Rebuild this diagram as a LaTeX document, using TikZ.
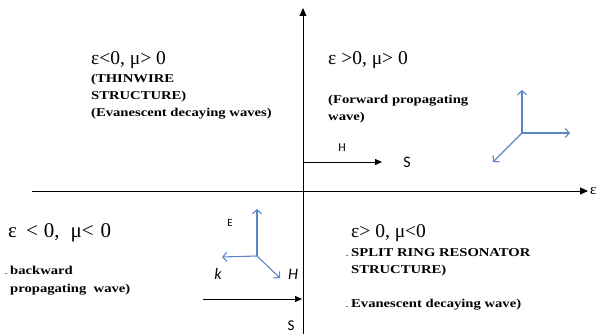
\documentclass[tikz,border=0pt]{standalone}
\usepackage{fontspec}
\setmainfont{Liberation Serif}
\setsansfont{Carlito}
\newfontfamily\widefont[FakeStretch=1.22]{Liberation Serif}
\usetikzlibrary{arrows.meta}
\definecolor{fieldblue}{RGB}{91,134,196}

\begin{document}
\begin{tikzpicture}[x=1pt, y=-1pt,
  quad/.style={anchor=base west, inner sep=0pt,
               font=\fontsize{19.5}{20}\selectfont},
  note/.style={anchor=north west, inner sep=0pt, align=left,
               font=\widefont\bfseries\fontsize{12}{17}\selectfont},
  lbl/.style={inner sep=0pt, font=\sffamily\fontsize{12}{12}\selectfont},
  axis/.style={-{Triangle[length=8pt, width=7pt]}, line width=0.9pt},
  arr/.style={-{Triangle[length=7pt, width=6pt]}, line width=0.8pt},
  field/.style={-{Straight Barb[length=4pt, width=9pt]}, fieldblue, line width=1.1pt}
]
\useasboundingbox (0,0) rectangle (598,334);

% axes
\coordinate (xs) at (32,191);
\coordinate (xe) at (588,191);
\coordinate (ys) at (303,334);
\coordinate (ye) at (303,8);
\draw[axis] (xs) -- (xe);
\draw[axis] (ys) -- (ye);
\node[lbl, anchor=west, font=\fontsize{15}{15}\selectfont] (eps) at (590,191) {ε};

% quadrant texts
\node[quad] (q2) at (91,65) {ε<0, μ> 0};
\node[note] (q2n) at (91,73.7) {(THINWIRE\\STRUCTURE)\\(Evanescent decaying waves)};
\node[quad] (q1) at (328,65) {ε >0, μ> 0};
\node[note] (q1n) at (328,94.7) {(Forward propagating\\wave)};
\node[quad, font=\fontsize{21}{21}\selectfont] (q3) at (8,238)
  {ε\hspace{9pt}<\hspace{6pt}0,\hspace{11pt}μ<\hspace{7pt}0};
\node[note, font=\widefont\bfseries\fontsize{12}{18}\selectfont] (q3n) at (10,265.8)
  {\llap{\scriptsize.\hspace{3pt}}backward\\propagating\ \ wave)};
\node[quad] (q4) at (351,238) {ε> 0, μ<0};
\node[note] (q4n) at (351,248)
  {\llap{\scriptsize.\hspace{3pt}}SPLIT RING RESONATOR\\STRUCTURE)\\[17pt]\llap{\scriptsize.\hspace{3pt}}Evanescent decaying wave)};

% forward wave: H and S
\coordinate (s1a) at (303,162);
\coordinate (s1b) at (382,162);
\draw[arr] (s1a) -- (s1b);
\node[lbl] (h1) at (342,148) {H};
\node[lbl, font=\sffamily\fontsize{16}{16}\selectfont] (s1) at (407,162) {S};

% forward wave triad
\coordinate (o1) at (522,133);
\coordinate (u1) at (522,90);
\coordinate (r1) at (570,133);
\coordinate (d1) at (493,162);
\draw[field] (o1) -- (u1);
\draw[field] (o1) -- (r1);
\draw[field] (o1) -- (d1);

% backward wave triad
\coordinate (o2) at (257,256);
\coordinate (u2) at (257,209);
\coordinate (l2) at (222,257);
\coordinate (d2) at (280,278);
\draw[field] (o2) -- (u2);
\draw[field] (o2) -- (l2);
\draw[field] (o2) -- (d2);
\node[lbl, font=\sffamily\fontsize{11}{11}\selectfont] (e2) at (230,223) {E};
\node[lbl, font=\sffamily\itshape\fontsize{16}{16}\selectfont] (k2) at (218,274) {k};
\node[lbl, font=\sffamily\itshape\fontsize{16}{16}\selectfont] (h2) at (293,274) {H};

% backward wave: S
\coordinate (s2a) at (203,299);
\coordinate (s2b) at (302,299);
\draw[arr] (s2a) -- (s2b);
\node[lbl, font=\sffamily\fontsize{15}{15}\selectfont] (s2) at (291,326) {S};
\end{tikzpicture}
\end{document}
